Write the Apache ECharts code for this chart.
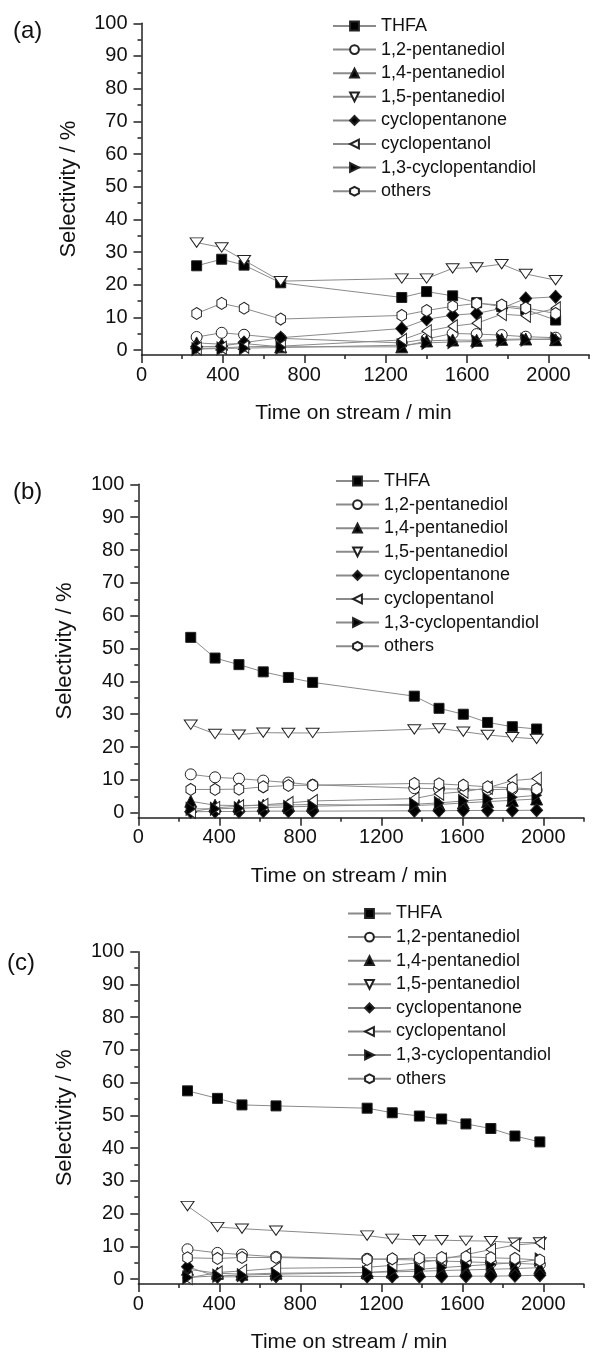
<!DOCTYPE html>
<html>
<head>
<meta charset="utf-8">
<script src="https://cdn.jsdelivr.net/npm/echarts@6/dist/echarts.min.js"></script>
<style>
html, body { margin: 0; padding: 0; background: #fff; }
#chart { width: 592px; height: 1355px; }
</style>
</head>
<body>
<div id="chart"></div>
<script>
// Product names, in legend order
const products = ['THFA', '1,2-pentanediol', '1,4-pentanediol', '1,5-pentanediol',
  'cyclopentanone', 'cyclopentanol', '1,3-cyclopentandiol', 'others'];

// Axis ticks and labels
const xMajorTicks = [0, 400, 800, 1200, 1600, 2000];
const xMinorTicks = [200, 600, 1000, 1400, 1800, 2200];
const yMajorTicks = [0, 10, 20, 30, 40, 50, 60, 70, 80, 90, 100];
const yMinorTicks = [5, 15, 25, 35, 45, 55, 65, 75, 85, 95];
const panelLabels = ['(a)', '(b)', '(c)'];

// Run (a): time on stream / min and selectivity / %
const timeA = [271, 394, 504, 684, 1279, 1401, 1529, 1647, 1770, 1888, 2035];
const thfaA = [25.8, 27.8, 26.0, 20.6, 16.1, 17.9, 16.6, 14.5, 13.3, 12.4, 9.2];
const pd12A = [4.0, 5.3, 4.7, 3.6, 2.2, 3.4, 5.1, 4.9, 4.6, 4.1, 3.8];
const pd14A = [2.2, 1.8, 2.0, 1.0, 1.0, 2.8, 3.1, 3.0, 3.3, 3.4, 3.2];
const pd15A = [32.9, 31.4, 27.5, 21.1, 21.9, 21.9, 25.0, 25.3, 26.3, 23.3, 21.4];
const cpnoneA = [1.0, 1.2, 2.3, 3.8, 6.6, 9.4, 10.7, 11.2, 12.8, 15.8, 16.3];
const cpnolA = [0.5, 0.7, 1.0, 1.2, 3.1, 5.8, 7.3, 8.2, 11.0, 10.5, 12.8];
const cpdiolA = [0.3, 0.5, 0.6, 0.8, 1.5, 2.2, 2.5, 2.6, 3.0, 3.2, 3.5];
const othersA = [11.2, 14.3, 12.8, 9.5, 10.6, 12.1, 13.4, 14.3, 13.8, 12.9, 11.2];

// Run (b)
const timeB = [259, 379, 497, 617, 741, 861, 1363, 1485, 1605, 1725, 1847, 1967];
const thfaB = [53.4, 47.1, 45.1, 42.9, 41.2, 39.7, 35.5, 31.8, 30.0, 27.5, 26.2, 25.5];
const pd12B = [11.7, 10.8, 10.4, 9.8, 9.2, 8.5, 7.5, 7.3, 7.2, 7.0, 7.2, 6.9];
const pd14B = [3.5, 2.3, 2.2, 2.3, 2.4, 2.5, 2.2, 2.5, 3.0, 3.4, 3.8, 4.2];
const pd15B = [26.8, 24.0, 23.8, 24.4, 24.3, 24.3, 25.4, 25.7, 24.7, 23.7, 23.0, 22.5];
const cpnoneB = [0.3, 0.4, 0.4, 0.5, 0.5, 0.5, 0.6, 0.6, 0.7, 0.7, 0.7, 0.8];
const cpnolB = [0.3, 1.5, 2.0, 2.4, 3.0, 3.6, 4.3, 5.8, 6.4, 7.6, 9.8, 10.4];
const cpdiolB = [1.2, 1.2, 1.4, 1.6, 1.8, 2.0, 2.6, 3.0, 3.6, 4.2, 4.7, 5.3];
const othersB = [7.1, 7.1, 7.2, 7.9, 8.3, 8.4, 8.9, 8.8, 8.4, 7.9, 7.6, 7.2];

// Run (c)
const timeC = [243, 391, 512, 680, 1130, 1254, 1388, 1498, 1618, 1741, 1860, 1983];
const thfaC = [57.5, 55.2, 53.2, 52.9, 52.2, 50.8, 49.8, 48.9, 47.4, 46.0, 43.7, 41.9];
const pd12C = [9.1, 8.0, 7.5, 6.8, 6.2, 6.0, 5.8, 5.5, 5.3, 5.0, 4.8, 4.5];
const pd14C = [3.0, 1.8, 1.5, 1.8, 2.0, 2.2, 2.4, 2.6, 2.8, 3.0, 3.2, 3.5];
const pd15C = [22.3, 15.9, 15.4, 14.8, 13.3, 12.3, 11.9, 11.9, 11.7, 11.6, 11.1, 11.2];
const cpnoneC = [3.8, 0.7, 0.7, 0.9, 0.8, 0.8, 0.8, 0.8, 0.9, 0.9, 1.0, 1.2];
const cpnolC = [0.3, 2.0, 2.5, 3.3, 3.6, 4.2, 5.0, 6.0, 7.5, 9.0, 10.4, 11.0];
const cpdiolC = [0.5, 1.0, 1.2, 1.5, 2.0, 2.5, 3.0, 3.5, 4.0, 4.5, 5.0, 6.0];
const othersC = [6.5, 6.3, 6.6, 6.6, 6.0, 6.2, 6.4, 6.6, 6.8, 6.5, 6.3, 5.8];

const runs = [
  { time: timeA, values: [thfaA, pd12A, pd14A, pd15A, cpnoneA, cpnolA, cpdiolA, othersA] },
  { time: timeB, values: [thfaB, pd12B, pd14B, pd15B, cpnoneB, cpnolB, cpdiolB, othersB] },
  { time: timeC, values: [thfaC, pd12C, pd14C, pd15C, cpnoneC, cpnolC, cpdiolC, othersC] }
];

const FONT = '"Liberation Sans", Arial, sans-serif';
const INK = '#111';
const LINE_GREY = '#8a8a8a';
const plain = v => String(v);

// Marker per product: shape, size, fill
const markers = [
  { symbol: 'rect', size: 10, fill: '#000' },
  { symbol: 'circle', size: 11, fill: '#fff' },
  { symbol: 'triangle', size: 12, fill: '#000' },
  { symbol: 'path://M0,0L20,0L10,17Z', size: [13, 11], fill: '#fff' },
  { symbol: 'diamond', size: [12, 13], fill: '#000' },
  { symbol: 'path://M17,0L0,10L17,20Z', size: [11, 13], fill: '#fff' },
  { symbol: 'path://M0,0L17,10L0,20Z', size: [11, 13], fill: '#000' },
  { symbol: 'path://M10,0L18.66,5L18.66,15L10,20L1.34,15L1.34,5Z', size: [11, 12], fill: '#fff' }
];

// Panel geometry (pixels)
const panels = [
  { left: 141.5, top: 23.3, height: 331.7, width: 447.7, legendLeft: 332, legendTop: 17, label: [13, 19] },
  { left: 138.3, top: 484.3, height: 333.4, width: 445.5, legendLeft: 335, legendTop: 472, label: [13, 480] },
  { left: 138.3, top: 951.7, height: 332.3, width: 445.5, legendLeft: 347, legendTop: 904.5, label: [7, 951] }
];

const grid = [], xAxis = [], yAxis = [], legend = [], title = [], series = [];

panels.forEach((p, g) => {
  grid.push({ left: p.left, top: p.top, width: p.width, height: p.height, containLabel: false });

  // main x axis with labels and long ticks
  xAxis.push({
    type: 'value', gridIndex: g, position: 'bottom', min: 0, max: 2200,
    name: 'Time on stream / min', nameLocation: 'middle', nameGap: 48,
    nameTextStyle: { fontFamily: FONT, fontSize: 21, color: INK, padding: [0, 24, 0, 0] },
    axisLine: { show: true, onZero: false, lineStyle: { color: '#222', width: 1.5 } },
    axisTick: { show: true, inside: false, length: 8, customValues: xMajorTicks, lineStyle: { color: '#222', width: 1.5 } },
    axisLabel: { show: true, margin: 10, customValues: xMajorTicks, formatter: plain, fontFamily: FONT, fontSize: 20, color: INK },
    splitLine: { show: false }
  });
  // short ticks between labels
  xAxis.push({
    type: 'value', gridIndex: g, position: 'bottom', offset: 0, min: 0, max: 2200,
    axisLine: { show: false, onZero: false },
    axisTick: { show: true, inside: false, length: 4, customValues: xMinorTicks, lineStyle: { color: '#222', width: 1.5 } },
    axisLabel: { show: false },
    splitLine: { show: false }
  });

  yAxis.push({
    type: 'value', gridIndex: g, position: 'left', min: -1.5, max: 100,
    name: 'Selectivity / %', nameLocation: 'middle', nameGap: 62,
    nameTextStyle: { fontFamily: FONT, fontSize: 22, color: INK },
    axisLine: { show: true, onZero: false, lineStyle: { color: '#222', width: 1.5 } },
    axisTick: { show: true, inside: false, length: 8, customValues: yMajorTicks, lineStyle: { color: '#222', width: 1.5 } },
    axisLabel: { show: true, margin: 14, customValues: yMajorTicks, formatter: plain, fontFamily: FONT, fontSize: 20, color: INK },
    splitLine: { show: false }
  });
  yAxis.push({
    type: 'value', gridIndex: g, position: 'left', offset: 0, min: -1.5, max: 100,
    axisLine: { show: false, onZero: false },
    axisTick: { show: true, inside: false, length: 4, customValues: yMinorTicks, lineStyle: { color: '#222', width: 1.5 } },
    axisLabel: { show: false },
    splitLine: { show: false }
  });

  legend.push({
    orient: 'vertical', left: p.legendLeft, top: p.legendTop, padding: 0,
    itemWidth: 43, itemHeight: 11, itemGap: 5.6,
    data: products,
    textStyle: { fontFamily: FONT, fontSize: 18, color: INK, lineHeight: 18 },
    selectedMode: false
  });

  title.push({
    text: panelLabels[g], left: p.label[0], top: p.label[1], padding: 0,
    textStyle: { fontFamily: FONT, fontSize: 24, fontWeight: 'normal', color: INK }
  });

  const run = runs[g];
  products.forEach((name, k) => {
    const m = markers[k];
    series.push({
      type: 'line', name: name,
      xAxisIndex: 2 * g, yAxisIndex: 2 * g,
      data: run.time.map((t, i) => [t, run.values[k][i]]),
      symbol: m.symbol, symbolSize: m.size, symbolKeepAspect: true,
      showAllSymbol: true,
      lineStyle: { color: LINE_GREY, width: 1 },
      itemStyle: { color: m.fill, borderColor: '#222', borderWidth: 1 },
      emphasis: { disabled: true },
      animation: false,
      z: 2 + k
    });
  });
});

const chart = echarts.init(document.getElementById('chart'), null, { renderer: 'canvas' });
chart.setOption({
  backgroundColor: '#fff',
  animation: false,
  title, grid, xAxis, yAxis, legend, series
});
</script>
</body>
</html>
